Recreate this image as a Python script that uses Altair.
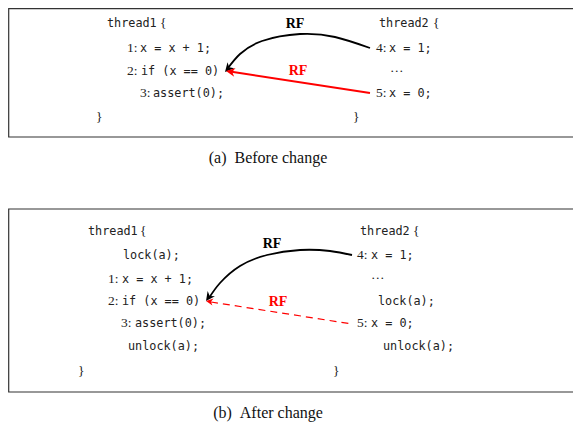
import altair as alt
import pandas as pd

# ---- code text (monospace) ----
code_text = ["thread1", "x = x + 1;", "if (x == 0)", "assert(0);",
             "thread2", "x = 1;", "x = 0;",
             "thread1", "lock(a);", "x = x + 1;", "if (x == 0)", "assert(0);", "unlock(a);",
             "thread2", "x = 1;", "lock(a);", "x = 0;", "unlock(a);"]
code_x = [107, 140, 141, 153, 379, 389, 389,
          88, 123, 122, 122, 135, 128,
          360, 371, 378, 371, 383]
code_y = [23, 48, 71, 93, 23, 48, 93,
          231, 255, 279, 301, 323, 346,
          231, 255, 301, 323, 346]

# ---- serif labels: line numbers, braces, ellipsis ----
lab_text = ["{", "1:", "2:", "3:", "}", "{", "4:", "\u2026", "5:", "}",
            "{", "1:", "2:", "3:", "}", "{", "4:", "\u2026", "5:", "}"]
lab_x = [160, 127, 127, 140, 96, 433, 376, 390, 376, 353,
         140, 108, 108, 121, 78, 413, 357, 371, 357, 333]
lab_y = [23, 48, 71, 93, 117, 23, 48, 68, 93, 117,
         231, 279, 301, 323, 371, 231, 255, 275, 323, 371]

# ---- RF labels ----
rf_text = ["RF", "RF", "RF", "RF"]
rf_x = [295, 298, 272, 278]
rf_y = [24, 71, 244, 302]
rf_color = ["#000000", "#ff0000", "#000000", "#ff0000"]

# ---- captions ----
cap_text = ["(a)\u2002Before change", "(b)\u2002After change"]
cap_x = [268, 268]
cap_y = [158, 413]

# ---- frames ----
box_x1 = [8.7, 8.7]
box_x2 = [590, 590]
box_y1 = [8.7, 209]
box_y2 = [137, 392]

# ---- black curved RF edges ----
curve_group = ["a"] * 6 + ["b"] * 7
curve_x = [370, 335, 300, 262, 240, 228,
           352, 330, 300, 267, 240, 220, 209]
curve_y = [48, 37, 34, 41, 54, 68,
           255, 251, 250, 255, 266, 283, 298]

# ---- red straight RF edges ----
red_solid_x = [370, 230]
red_solid_y = [93, 71.5]
red_dash_x = [352, 211]
red_dash_y = [324, 302]

# ---- arrowheads ----
head_x = [225, 226, 206, 206]
head_y = [72, 71, 301, 301]
head_angle = [221, 279, 216, 279]
head_color = ["#000000", "#ff0000", "#000000", "#ff0000"]
head_size = [324, 324, 324, 200]

xs = alt.Scale(domain=[8, 573], nice=False, zero=False)
ys = alt.Scale(domain=[8, 422], nice=False, zero=False, reverse=True)

def X(f):
    return alt.X(f, type="quantitative", scale=xs, axis=None)

def Y(f):
    return alt.Y(f, type="quantitative", scale=ys, axis=None)

boxes = alt.Chart(pd.DataFrame({"x": box_x1, "x2": box_x2, "y": box_y1, "y2": box_y2})).mark_rect(
    fillOpacity=0, stroke="#333333", strokeWidth=1.2
).encode(x=X("x"), x2="x2", y=Y("y"), y2="y2")

code = alt.Chart(pd.DataFrame({"t": code_text, "x": code_x, "y": code_y})).mark_text(
    font="DejaVu Sans Mono", fontSize=11.8, align="left", baseline="middle", color="#222222"
).encode(x=X("x"), y=Y("y"), text="t")

labels = alt.Chart(pd.DataFrame({"t": lab_text, "x": lab_x, "y": lab_y})).mark_text(
    font="Liberation Serif", fontSize=13.5, align="left", baseline="middle", color="#222222"
).encode(x=X("x"), y=Y("y"), text="t")

rf = alt.Chart(pd.DataFrame({"t": rf_text, "x": rf_x, "y": rf_y, "c": rf_color})).mark_text(
    font="Liberation Serif", fontSize=14, fontWeight="bold", align="center", baseline="middle"
).encode(x=X("x"), y=Y("y"), text="t", color=alt.Color("c", scale=None))

caps = alt.Chart(pd.DataFrame({"t": cap_text, "x": cap_x, "y": cap_y})).mark_text(
    font="Liberation Serif", fontSize=16, align="center", baseline="middle", color="#111111"
).encode(x=X("x"), y=Y("y"), text="t")

curves = alt.Chart(pd.DataFrame({"g": curve_group, "x": curve_x, "y": curve_y,
                                 "o": list(range(len(curve_x)))})).mark_line(
    interpolate="natural", color="#000000", strokeWidth=1.8
).encode(x=X("x"), y=Y("y"), detail="g", order="o")

red1 = alt.Chart(pd.DataFrame({"x": red_solid_x, "y": red_solid_y})).mark_line(
    color="#ff0000", strokeWidth=2
).encode(x=X("x"), y=Y("y"))

red2 = alt.Chart(pd.DataFrame({"x": red_dash_x, "y": red_dash_y})).mark_line(
    color="#ff0000", strokeWidth=1.2, strokeDash=[7, 5]
).encode(x=X("x"), y=Y("y"))

heads = alt.Chart(pd.DataFrame({"x": head_x, "y": head_y, "a": head_angle,
                                "c": head_color, "s": head_size})).mark_point(
    shape="M0,0 L-0.5,1 L0,0.7 L0.5,1 Z", filled=True, opacity=1, strokeWidth=0
).encode(x=X("x"), y=Y("y"), angle=alt.Angle("a", scale=None),
         color=alt.Color("c", scale=None), size=alt.Size("s", scale=None))

chart = alt.layer(boxes, curves, red1, red2, heads, code, labels, rf, caps).properties(
    width=565, height=414, padding=0, autosize=alt.AutoSizeParams(type="none")
).configure_view(stroke=None)

chart.save("out.html", embed_options={"renderer": "svg", "actions": False})
